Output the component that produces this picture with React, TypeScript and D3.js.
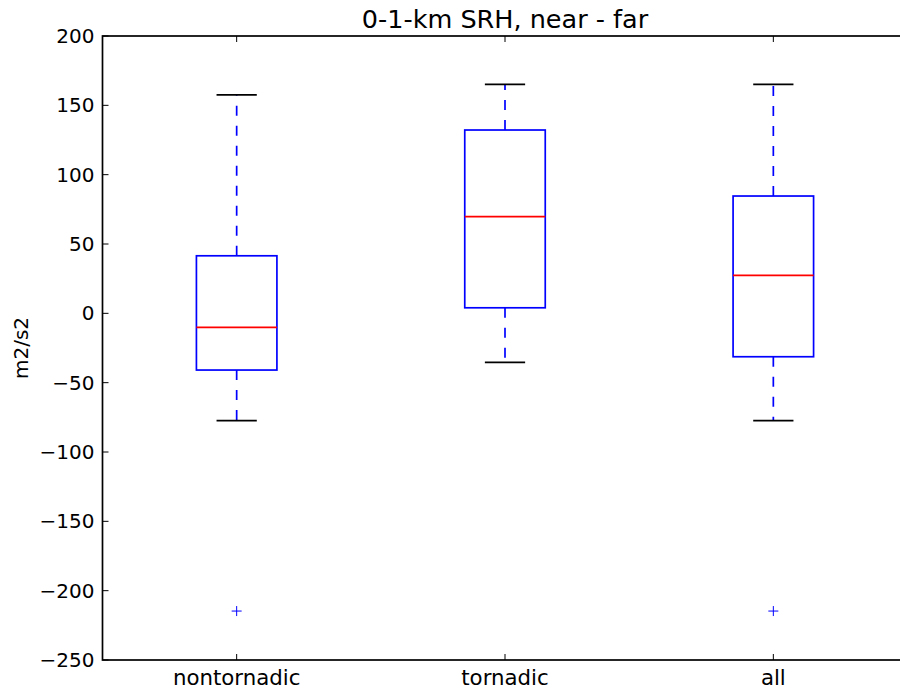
import React from "react";
import * as d3 from "d3";

const categories = ["nontornadic", "tornadic", "all"];
const whiskerLow = [-77.4, -35.3, -77.4];
const q1 = [-40.9, 4.0, -31.3];
const median = [-10.1, 69.7, 27.4];
const q3 = [41.5, 132.2, 84.6];
const whiskerHigh = [157.6, 165.1, 165.1];
const outliers: number[][] = [[-214.7], [], [-214.7]];
const yTicks = [-250, -200, -150, -100, -50, 0, 50, 100, 150, 200];

const W = 900;
const H = 693;
const left = 102.5;
const right = 907.5;
const top = 36;
const bottom = 660;
const FONT = "DejaVu Sans, sans-serif";

export default function App() {
  const x = d3.scaleLinear().domain([0.5, 3.5]).range([left, right]);
  const y = d3.scaleLinear().domain([-250, 200]).range([bottom, top]);
  const boxW = x(0.15) - x(0);
  const capW = x(0.075) - x(0);
  const lw = 1.7;

  return (
    <svg
      width={W}
      height={H}
      style={{ position: "absolute", left: 0, top: 0, background: "#fff" }}
      fontFamily={FONT}
    >
      <rect x={0} y={0} width={W} height={H} fill="#fff" />
      {categories.map((c, i) => {
        const cx = x(i + 1);
        return (
          <g key={c}>
            <line x1={cx} x2={cx} y1={y(q1[i])} y2={y(whiskerLow[i])} stroke="#0000ff" strokeWidth={lw} strokeDasharray="10,10" />
            <line x1={cx} x2={cx} y1={y(q3[i])} y2={y(whiskerHigh[i])} stroke="#0000ff" strokeWidth={lw} strokeDasharray="10,10" />
            <line x1={cx - capW} x2={cx + capW} y1={y(whiskerLow[i])} y2={y(whiskerLow[i])} stroke="#000" strokeWidth={lw} />
            <line x1={cx - capW} x2={cx + capW} y1={y(whiskerHigh[i])} y2={y(whiskerHigh[i])} stroke="#000" strokeWidth={lw} />
            <rect x={cx - boxW} y={y(q3[i])} width={2 * boxW} height={y(q1[i]) - y(q3[i])} fill="none" stroke="#0000ff" strokeWidth={lw} />
            <line x1={cx - boxW} x2={cx + boxW} y1={y(median[i])} y2={y(median[i])} stroke="#ff0000" strokeWidth={lw} />
            {outliers[i].map((o, k) => (
              <g key={k} stroke="#0000ff" strokeWidth={1}>
                <line x1={cx - 5} x2={cx + 5} y1={y(o)} y2={y(o)} />
                <line x1={cx} x2={cx} y1={y(o) - 5} y2={y(o) + 5} />
              </g>
            ))}
          </g>
        );
      })}
      <rect x={left} y={top} width={right - left} height={bottom - top} fill="none" stroke="#000" strokeWidth={1.7} />
      {yTicks.map((t) => (
        <g key={t}>
          <line x1={left} x2={left + 6} y1={y(t)} y2={y(t)} stroke="#000" strokeWidth={1} />
          <line x1={right} x2={right - 6} y1={y(t)} y2={y(t)} stroke="#000" strokeWidth={1} />
          <text x={left - 8} y={y(t)} dy="0.35em" textAnchor="end" fontSize={20} fill="#000">
            {t < 0 ? "\u2212" + Math.abs(t) : String(t)}
          </text>
        </g>
      ))}
      {categories.map((c, i) => (
        <g key={c}>
          <line x1={x(i + 1)} x2={x(i + 1)} y1={bottom} y2={bottom - 6} stroke="#000" strokeWidth={1} />
          <line x1={x(i + 1)} x2={x(i + 1)} y1={top} y2={top + 6} stroke="#000" strokeWidth={1} />
          <text x={x(i + 1)} y={bottom + 25} textAnchor="middle" fontSize={21.3} fill="#000">
            {c}
          </text>
        </g>
      ))}
      <text x={(left + right) / 2} y={top - 8} textAnchor="middle" fontSize={25.5} fill="#000">
        0-1-km SRH, near - far
      </text>
      <text transform={`translate(28,${(top + bottom) / 2}) rotate(-90)`} textAnchor="middle" fontSize={20} fill="#000">
        m2/s2
      </text>
    </svg>
  );
}
